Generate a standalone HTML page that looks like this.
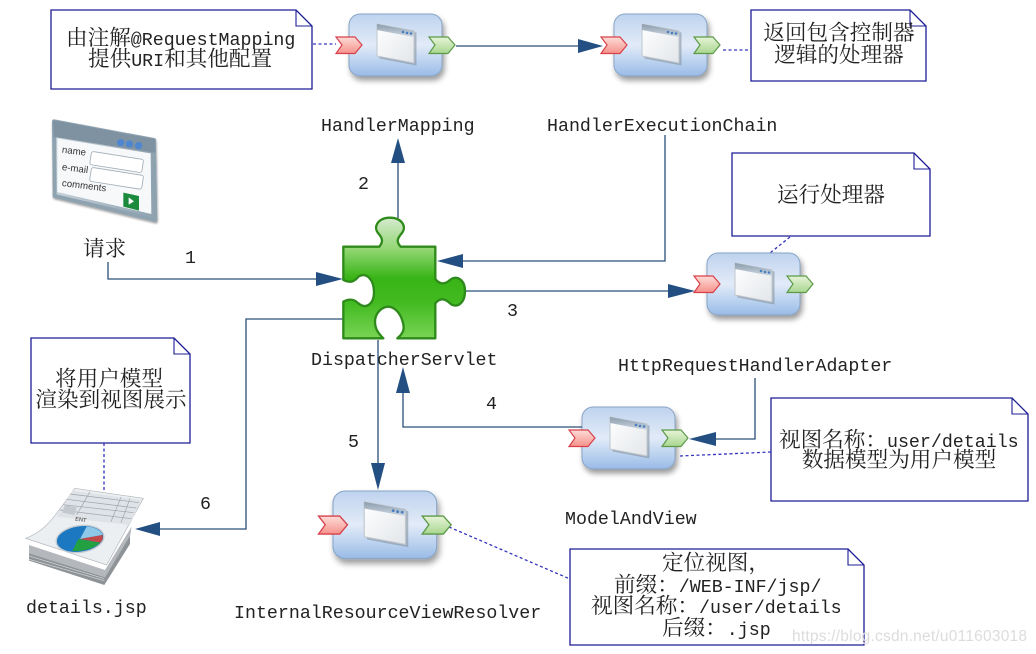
<!DOCTYPE html>
<html><head><meta charset="utf-8"><style>
html,body{margin:0;padding:0;background:#fff}
svg{display:block}
.t{font-family:"Liberation Mono","Noto Serif CJK SC",monospace;font-size:18.3px;fill:#222}
.c{font-family:"Noto Serif CJK SC","Liberation Serif",serif;font-size:20px;fill:#222}
.m{text-anchor:middle}
.ln{fill:none;stroke:#2b4f78;stroke-width:1.3}
.d{fill:none;stroke:#3434c0;stroke-width:1.3;stroke-dasharray:3 2.5}
.n{fill:#fff;stroke:#1c1c96;stroke-width:1.3}
.f{fill:none;stroke:#1c1c96;stroke-width:1.1}
.a{fill:#244f82}
</style></head><body>
<svg width="1036" height="654" viewBox="0 0 1036 654" xmlns="http://www.w3.org/2000/svg">
<defs>
<linearGradient id="bx" x1="0" y1="0" x2="0" y2="1"><stop offset="0" stop-color="#bfd3ee"/><stop offset=".5" stop-color="#e2ebf8"/><stop offset=".8" stop-color="#b6cfee"/><stop offset="1" stop-color="#9abae6"/></linearGradient>
<linearGradient id="wn" x1="0" y1="0" x2="1" y2="1"><stop offset="0" stop-color="#fff"/><stop offset="1" stop-color="#e2e6ea"/></linearGradient>
<linearGradient id="tb" x1="0" y1="0" x2="0" y2="1"><stop offset="0" stop-color="#8c9cac"/><stop offset="1" stop-color="#cdd8e2"/></linearGradient>
<linearGradient id="rd" x1="0" y1="0" x2="0" y2="1"><stop offset="0" stop-color="#fcdcd8"/><stop offset="1" stop-color="#f7928c"/></linearGradient>
<linearGradient id="gr" x1="0" y1="0" x2="0" y2="1"><stop offset="0" stop-color="#e6f4d8"/><stop offset="1" stop-color="#a8d690"/></linearGradient>
<linearGradient id="pz" x1="0" y1="0" x2="0" y2="1"><stop offset="0" stop-color="#d6ead0"/><stop offset=".25" stop-color="#96d878"/><stop offset=".5" stop-color="#38b416"/><stop offset=".7" stop-color="#42ba20"/><stop offset="1" stop-color="#78d454"/></linearGradient>
<linearGradient id="fr" x1="0" y1="0" x2="1" y2="0"><stop offset="0" stop-color="#c6d2da"/><stop offset="1" stop-color="#8fa2b0"/></linearGradient>
<filter id="sh" x="-20%" y="-20%" width="140%" height="150%"><feGaussianBlur in="SourceAlpha" stdDeviation="3"/><feOffset dx="2" dy="4"/><feComponentTransfer><feFuncA type="linear" slope=".4"/></feComponentTransfer><feMerge><feMergeNode/><feMergeNode in="SourceGraphic"/></feMerge></filter>
<filter id="sf" x="-5%" y="-5%" width="110%" height="110%"><feGaussianBlur stdDeviation=".35"/></filter>
<g id="node">
<rect x="0" y="0" width="93" height="62" rx="11" fill="url(#bx)" stroke="#88a5c8" stroke-width="1" filter="url(#sh)"/>
<g transform="translate(28,10)" filter="url(#sf)">
<polygon points="1,0 38,7 38,40 1,33" fill="#7f8c98" transform="translate(1.5,1.5)" opacity=".55"/>
<polygon points="0,0 37,7 37,39 0,32" fill="url(#wn)" stroke="#c0c6cc" stroke-width="1" stroke-linejoin="round"/>
<polygon points="0,0 37,7 37,13 0,6" fill="url(#tb)"/>
<circle cx="26" cy="8" r="1.3" fill="#4a7fc0"/><circle cx="30" cy="9" r="1.3" fill="#4a7fc0"/><circle cx="34" cy="9.5" r="1.3" fill="#4a7fc0"/>
</g>
<polygon points="-13,23 6,23 13,31 6,39.5 -13,39.5 -7,31" fill="url(#rd)" stroke="#d8404a" stroke-width="1.2"/>
<polygon points="80,23 99,23 106,31 99,39.5 80,39.5 86,31" fill="url(#gr)" stroke="#5c9a48" stroke-width="1.2"/>
</g>
</defs>

<!-- notes -->
<path class="n" d="M51 10H296L312 26V89H51Z"/><path class="f" d="M296 10V26H312"/>
<path class="n" d="M751 10H910L926 26V81H751Z"/><path class="f" d="M910 10V26H926"/>
<path class="n" d="M732 153H914L930 169V236H732Z"/><path class="f" d="M914 153V169H930"/>
<path class="n" d="M31 338H174L190 354V443H31Z"/><path class="f" d="M174 338V354H190"/>
<path class="n" d="M771 398H1012L1028 414V501H771Z"/><path class="f" d="M1012 398V414H1028"/>
<path class="n" d="M570 549H848L864 565V645H570Z"/><path class="f" d="M848 549V565H864"/>

<!-- dashed -->
<path class="d" d="M313 44H336"/><path class="d" d="M723 50H751"/><path class="d" d="M790 237L770 253"/>
<path class="d" d="M680 456L771 452"/><path class="d" d="M449 527L570 579"/><path class="d" d="M104 443V490"/>

<!-- nodes -->
<use href="#node" x="349" y="14"/>
<use href="#node" x="614" y="14"/>
<use href="#node" x="707" y="253"/>
<use href="#node" x="582" y="407"/>
<use href="#node" transform="translate(333,491) scale(1.115,1.09)"/>

<!-- connectors -->
<path class="ln" d="M456 46H580"/><polygon class="a" points="603,46 578,39 578,53"/>
<path class="ln" d="M398 218V160"/><polygon class="a" points="398,138 391,163 405,163"/>
<path class="ln" d="M108 262V279H320"/><polygon class="a" points="343,279 316,272 316,286"/>
<path class="ln" d="M665 135V261H460"/><polygon class="a" points="437,261 463,254 463,268"/>
<path class="ln" d="M465 291H670"/><polygon class="a" points="695,291 668,284 668,298"/>
<path class="ln" d="M755 378V439H712"/><polygon class="a" points="689,439 716,432 716,446"/>
<path class="ln" d="M582 427H403V390"/><polygon class="a" points="403,367 396,393 410,393"/>
<path class="ln" d="M378 340V466"/><polygon class="a" points="378,490 371,463 385,463"/>
<path class="ln" d="M343 319H246V529H158"/><polygon class="a" points="135,529 160,522 160,536"/>

<!-- puzzle -->
<g transform="translate(320,205) scale(.3333)">
<path d="M70 125H178C190 110 188 100 175 85C158 65 175 38 210 38C245 38 262 65 245 85C232 100 228 110 242 125H346V222C360 240 375 238 390 225C410 208 435 225 435 258C435 295 410 312 390 295C375 280 360 278 346 295V400H232C250 385 255 372 248 350C240 320 220 305 205 305C185 305 165 325 165 350C165 372 175 385 190 400H70V290C85 282 100 280 115 295C140 315 162 295 162 262C162 225 140 200 115 215C100 235 85 232 70 225Z" fill="url(#pz)" stroke="#2e8a1a" stroke-width="7" stroke-linejoin="round"/>
</g>

<!-- form icon -->
<g transform="translate(40,110) scale(.3333)" filter="url(#sh)">
<polygon points="42,34 342,90 346,330 44,258" fill="url(#fr)" stroke="#8fa2b0" stroke-width="12" stroke-linejoin="round"/>
<polygon points="42,34 342,90 344,125 44,78" fill="#7e92a2" stroke="#7e92a2" stroke-width="6" stroke-linejoin="round"/>
<polygon points="52,85 332,130 334,312 52,246" fill="#f6f8fa"/>
<circle cx="242" cy="98" r="11" fill="#4f86d0"/><circle cx="268" cy="102" r="11" fill="#4f86d0"/><circle cx="296" cy="107" r="11" fill="#4f86d0"/>
<rect x="155" y="124" width="158" height="40" rx="7" fill="#fff" stroke="#a0adb6" stroke-width="2.5" transform="rotate(9 155 124)"/>
<rect x="155" y="172" width="158" height="42" rx="7" fill="#fff" stroke="#a0adb6" stroke-width="2.5" transform="rotate(9 155 172)"/>
<polygon points="250,248 297,258 297,302 250,290" fill="#1d8a3c"/><polygon points="266,262 282,274 266,284" fill="#fff"/>
<text x="65" y="128" font-family="Liberation Sans,sans-serif" font-size="29" fill="#333" transform="rotate(7 65 128)">name</text>
<text x="65" y="180" font-family="Liberation Sans,sans-serif" font-size="29" fill="#333" transform="rotate(7 65 180)">e-mail</text>
<text x="65" y="228" font-family="Liberation Sans,sans-serif" font-size="29" fill="#333" transform="rotate(7 65 228)">comments</text>
</g>

<!-- document icon -->
<g transform="translate(15,470) scale(.3333)" filter="url(#sf)">
<polygon points="42,225 270,300 350,170 345,200 270,325 42,252" fill="#b4b8bc"/>
<polygon points="42,250 270,322 345,198 345,222 268,345 42,272" fill="#8e9398"/>
<path d="M42 268L268 332M42 258L268 326" stroke="#d8dadc" stroke-width="2" fill="none"/>
<path d="M32 205C70 190 95 170 125 130L180 55L385 85L275 285Z" fill="#eceff2" stroke="#b0b5ba" stroke-width="2"/>
<polygon points="172,62 378,90 345,165 125,140" fill="#dfe3e7"/>
<path d="M165 72L372 98M155 88L364 114M145 104L356 128M135 120L350 146M225 65L185 135M318 82L288 155M345 86L318 158" stroke="#9aa2aa" stroke-width="2" fill="none"/>
<polygon points="150,105 185,112 178,135 142,128" fill="#c2c8ce"/>
<text x="180" y="152" font-family="Liberation Sans,sans-serif" font-size="17" fill="#333" transform="rotate(8 180 152)">ENT</text>
<ellipse cx="195" cy="207" rx="72" ry="40" fill="#1e78c0" stroke="#c5ccd2" stroke-width="4" transform="rotate(-8 195 207)"/>
<path d="M195 207L215 170C240 170 262 185 262 195Z" fill="#8ec8e8"/>
<path d="M195 207L262 195C265 205 262 212 255 218Z" fill="#c24a4a"/>
<path d="M190 207L255 218C240 235 205 245 172 243Z" fill="#23a043"/>
</g>

<!-- labels -->
<text class="t" x="321" y="131">HandlerMapping</text>
<text class="t" x="547" y="131">HandlerExecutionChain</text>
<text class="t" x="311" y="365">DispatcherServlet</text>
<text class="t" x="618" y="371">HttpRequestHandlerAdapter</text>
<text class="t" x="565" y="524">ModelAndView</text>
<text class="t" x="234" y="618">InternalResourceViewResolver</text>
<text class="t" x="26" y="613">details.jsp</text>
<text class="c" x="83" y="256" style="font-size:21.6px">请求</text>

<text class="t" x="185" y="263">1</text>
<text class="t" x="358" y="189">2</text>
<text class="t" x="507" y="316">3</text>
<text class="t" x="486" y="409">4</text>
<text class="t" x="348" y="447">5</text>
<text class="t" x="200" y="509">6</text>

<g style="font-size:21.6px">
<text x="66" y="45"><tspan class="c" style="font-size:21.6px">由注解</tspan><tspan class="t" style="font-size:18.3px">@RequestMapping</tspan></text>
<text x="88" y="66"><tspan class="c" style="font-size:21.6px">提供</tspan><tspan class="t" style="font-size:18.3px">URI</tspan><tspan class="c" style="font-size:21.6px">和其他配置</tspan></text>
<text class="c m" x="839" y="40" style="font-size:21.6px">返回包含控制器</text>
<text class="c m" x="839" y="62" style="font-size:21.6px">逻辑的处理器</text>
<text class="c m" x="831" y="202" style="font-size:21.6px">运行处理器</text>
<text class="c m" x="109" y="386" style="font-size:21.6px">将用户模型</text>
<text class="c m" x="111" y="407" style="font-size:21.6px">渲染到视图展示</text>
<text x="779" y="447"><tspan class="c" style="font-size:21.6px">视图名称：</tspan><tspan class="t" style="font-size:18.3px">user/details</tspan></text>
<text class="c m" x="899" y="467" style="font-size:21.6px">数据模型为用户模型</text>
<text class="c" x="662" y="570" style="font-size:21.6px">定位视图，</text>
<text x="614" y="592"><tspan class="c" style="font-size:21.6px">前缀：</tspan><tspan class="t" style="font-size:18.3px">/WEB-INF/jsp/</tspan></text>
<text x="591" y="613"><tspan class="c" style="font-size:21.6px">视图名称：</tspan><tspan class="t" style="font-size:18.3px">/user/details</tspan></text>
<text x="662" y="635"><tspan class="c" style="font-size:21.6px">后缀：</tspan><tspan class="t" style="font-size:18.3px">.jsp</tspan></text>
</g>

<text x="792" y="641" font-family="Liberation Sans,sans-serif" font-size="15.5" fill="#dcdcdc" textLength="235">https://blog.csdn.net/u011603018</text>
</svg>
</body></html>
